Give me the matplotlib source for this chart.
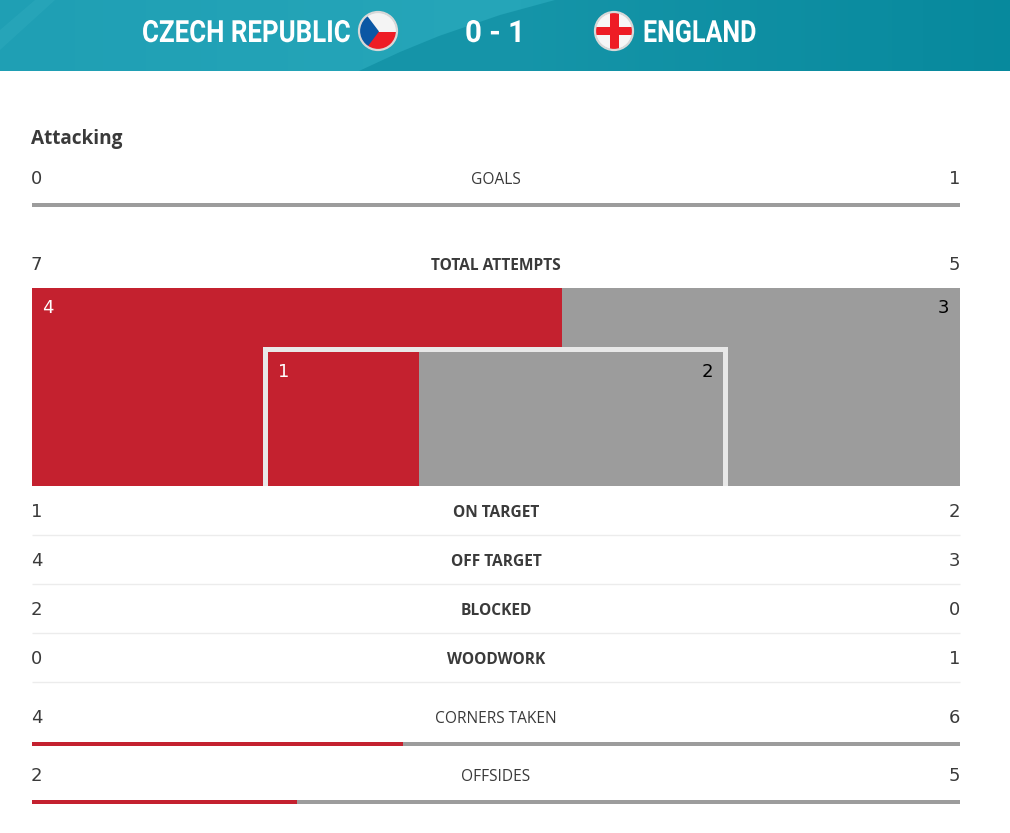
import matplotlib
matplotlib.use("Agg")
import matplotlib.pyplot as plt
import numpy as np
from matplotlib.patches import Rectangle, Circle, Polygon
from matplotlib.patheffects import AbstractPathEffect
from matplotlib.transforms import Affine2D

home_team = "CZECH REPUBLIC"
away_team = "ENGLAND"
score = "0 - 1"
section = "Attacking"

bar_labels = ["GOALS", "CORNERS TAKEN", "OFFSIDES"]
bar_home = [0, 4, 2]
bar_away = [1, 6, 5]

total_label = "TOTAL ATTEMPTS"
total_home = 7
total_away = 5
off_home = 4
off_away = 3
on_home = 1
on_away = 2

row_labels = ["ON TARGET", "OFF TARGET", "BLOCKED", "WOODWORK"]
row_home = [1, 4, 2, 0]
row_away = [2, 3, 0, 1]

RED = "#c4212f"
GREY = "#9c9c9c"
INK = "#3a3a3a"
BODY = "Open Sans"
HEAD = "Roboto"
L, R = 32, 960


class Squeeze(AbstractPathEffect):
    """Narrow a text horizontally about a fixed pixel x."""

    def __init__(self, x0, sx):
        super().__init__()
        self.x0, self.sx = x0, sx

    def draw_path(self, renderer, gc, tpath, affine, rgbFace=None):
        t = affine + Affine2D().translate(-self.x0, 0).scale(self.sx, 1).translate(self.x0, 0)
        renderer.draw_path(gc, tpath, t, rgbFace)


fig = plt.figure(figsize=(10.1, 8.33), dpi=100)
ax = fig.add_axes([0, 0, 1, 1])
ax.set_xlim(0, 1010)
ax.set_ylim(833, 0)
ax.axis("off")

# header band
gx, gy = np.meshgrid(np.linspace(0, 1, 256), np.linspace(0, 1, 16))
c0 = np.array([0x1f, 0x9f, 0xb4]) / 255
c1 = np.array([0x26, 0xa6, 0xb9]) / 255
c2 = np.array([0x03, 0x88, 0x9c]) / 255
t = gx[..., None]
grad = np.where(t < 0.5, c0 + (c1 - c0) * t * 2, c1 + (c2 - c1) * (t - 0.5) * 2)
ax.imshow(grad, extent=[0, 1010, 71, 0], aspect="auto", zorder=0)
ax.add_patch(Polygon([(359, 71), (400, 52), (439, 36), (500, 15), (555, 0), (1010, 0), (1010, 71)],
                     fc="#0b8a9e", ec="none", alpha=0.6, zorder=1))
ax.add_patch(Polygon([(0, 30), (35, 0), (55, 0), (0, 50)], fc="#35aec0", ec="none", alpha=0.35, zorder=1))
ax.set_xlim(0, 1010)
ax.set_ylim(833, 0)


def head_text(x0, x1, s):
    txt = ax.text(x0, 42, s, family=HEAD, weight="bold", fontsize=22, color="white",
                  ha="left", va="baseline", zorder=5)
    width = txt.get_window_extent(fig.canvas.get_renderer()).width
    txt.set_path_effects([Squeeze(x0, (x1 - x0) / width)])


head_text(142, 350, home_team)
head_text(465, 525, score)
head_text(643, 756, away_team)

# Czech flag
cz = Circle((378, 31), 18.5, transform=ax.transData)
ax.add_patch(Rectangle((359, 12), 40, 19.5, fc="#f4f4f4", ec="none", zorder=3, clip_path=cz))
ax.add_patch(Rectangle((359, 31.5), 40, 20, fc="#ee1c25", ec="none", zorder=3, clip_path=cz))
ax.add_patch(Polygon([(359, 5), (379, 31.5), (359, 58)], fc="#0b57a4", ec="none", zorder=4, clip_path=cz))
ax.add_patch(Circle((378, 31), 19, fc="none", ec="#d8d8d8", lw=1.6, zorder=5))
# England flag
en = Circle((614, 31), 18.5, transform=ax.transData)
ax.add_patch(Rectangle((595, 12), 40, 40, fc="#f6f6f6", ec="none", zorder=3, clip_path=en))
ax.add_patch(Rectangle((609.5, 12), 9, 40, fc="#ee1c25", ec="none", zorder=4, clip_path=en))
ax.add_patch(Rectangle((595, 27), 40, 8, fc="#ee1c25", ec="none", zorder=4, clip_path=en))
ax.add_patch(Circle((614, 31), 19, fc="none", ec="#d8d8d8", lw=1.6, zorder=5))

ax.text(31, 144, section, family=BODY, weight="bold", fontsize=13.7, color=INK, ha="left", va="baseline")


def stat_row(y, label, h, a, bold):
    ax.text(31, y + 6, str(h), family="DejaVu Sans", fontsize=13, color=INK, ha="left", va="baseline")
    ax.text(960, y + 6, str(a), family="DejaVu Sans", fontsize=13, color=INK, ha="right", va="baseline")
    ax.text(496, y + 5.6, label, family=BODY, fontsize=11.2, color=INK, ha="center", va="baseline",
            weight="bold" if bold else "normal")


def split_bar(x0, x1, y0, y1, h, a, z=2):
    xm = x0 + (x1 - x0) * h / (h + a)
    if h:
        ax.add_patch(Rectangle((x0, y0), xm - x0, y1 - y0, fc=RED, ec="none", zorder=z))
    ax.add_patch(Rectangle((xm, y0), x1 - xm, y1 - y0, fc=GREY, ec="none", zorder=z))


# thin bars
for y, bar_y, label, h, a in zip([178, 717, 775], [203, 742, 800], bar_labels, bar_home, bar_away):
    stat_row(y, label, h, a, False)
    split_bar(L, R, bar_y, bar_y + 3.5, h, a)

# attempts block
stat_row(264, total_label, total_home, total_away, True)
split_bar(L, R, 288, 486, off_home, off_away)
ax.add_patch(Rectangle((263, 347), 465, 139, fc="#e8e8e8", ec="none", zorder=3))
split_bar(267, 723, 352, 486, on_home, on_away, z=4)
ax.add_patch(Rectangle((263, 347), 5, 139, fc="#e8e8e8", ec="none", zorder=5))
ax.text(42, 313, str(off_home), family="DejaVu Sans", fontsize=13, color="white", ha="left", va="baseline", zorder=6)
ax.text(949, 313, str(off_away), family="DejaVu Sans", fontsize=13, color="black", ha="right", va="baseline", zorder=6)
ax.text(278, 377, str(on_home), family="DejaVu Sans", fontsize=13, color="white", ha="left", va="baseline", zorder=6)
ax.text(713, 377, str(on_away), family="DejaVu Sans", fontsize=13, color="black", ha="right", va="baseline", zorder=6)

# rows
for i, (label, h, a) in enumerate(zip(row_labels, row_home, row_away)):
    y = 511 + 49 * i
    stat_row(y, label, h, a, True)
    ax.plot([L, R], [y + 24, y + 24], color="#ececec", lw=1, zorder=1, solid_capstyle="butt")

fig.savefig("out.png", dpi=100, facecolor="white")
